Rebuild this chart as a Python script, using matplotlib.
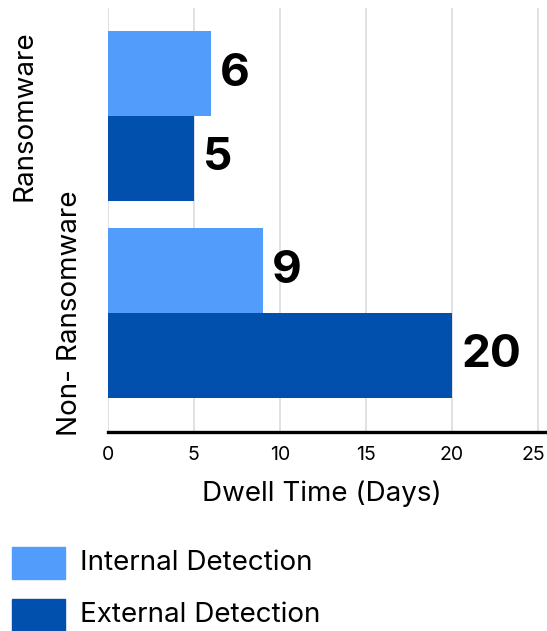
import matplotlib
matplotlib.use("Agg")
import matplotlib.pyplot as plt
from matplotlib.patches import Rectangle
from matplotlib.transforms import blended_transform_factory, ScaledTranslation

plt.rcParams['font.family'] = ['Inter', 'DejaVu Sans']

# data
categories = ['Ransomware', 'Non- Ransomware']
internal = [6, 9]
external = [5, 20]
series_names = ['Internal Detection', 'External Detection']
xticks = [0, 5, 10, 15, 20, 25]

c_int = '#529cfb'
c_ext = '#0150ad'

fig = plt.figure(figsize=(5.47, 6.31), dpi=100)
# axes runs to the right edge; 25 sits a bit inside it
ax = fig.add_axes([107.7/547, 1 - 432/631, 439.3/547, 424/631])

pos = [1, 0]  # Ransomware on top
h = 0.431
off = h / 2
ax.barh([p + off for p in pos], internal, height=h, color=c_int, zorder=2)
ax.barh([p - off for p in pos], external, height=h, color=c_ext, zorder=2)

for p, v in zip(pos, internal):
    ax.text(v + 0.55, p + off, str(v), va='center', ha='left',
            fontsize=33, fontweight='bold', color='black')
for p, v in zip(pos, external):
    ax.text(v + 0.55, p - off, str(v), va='center', ha='left',
            fontsize=33, fontweight='bold', color='black')

ax.set_xlim(0, 439.3 / 17.2)
ax.set_ylim(-0.604, 1.548)
ax.set_xticks(xticks)
ax.set_xticklabels([str(t) for t in xticks], fontsize=14)
ax.set_yticks([])
ax.tick_params(axis='x', length=0, pad=10)
ax.grid(axis='x', color='#d9dce0', linewidth=1.2, zorder=0)
for s in ['top', 'right', 'left']:
    ax.spines[s].set_visible(False)
ax.spines['bottom'].set_linewidth(2.4)
ax.spines['bottom'].set_color('black')
ax.spines['bottom'].set_zorder(3)
ax.set_xlabel('Dwell Time (Days)', fontsize=20)
ax.xaxis.set_label_coords((322 - 107.7) / 439.3, -0.114)

# nudge the last tick label so it stays inside the figure
last = ax.get_xticklabels()[-1]
last.set_transform(last.get_transform() + ScaledTranslation(-3/72, 0, fig.dpi_scale_trans))

# category labels, staggered like the original
tr = blended_transform_factory(fig.transFigure, ax.transData)
ax.text(25/547, pos[0], categories[0], transform=tr, rotation=90,
        va='center', ha='center', fontsize=20)
ax.text(70/547, pos[1], categories[1], transform=tr, rotation=90,
        va='center', ha='center', fontsize=20)

# legend
for i, (name, col) in enumerate(zip(series_names, [c_int, c_ext])):
    top = 547 + i * 52
    fig.patches.append(Rectangle((12/547, 1 - (top + 32)/631), 53/547, 32/631,
                                 transform=fig.transFigure, color=col))
    fig.text(80/547, 1 - (top + 16)/631, name, va='center', ha='left', fontsize=20)

fig.savefig('out.png', dpi=100)
